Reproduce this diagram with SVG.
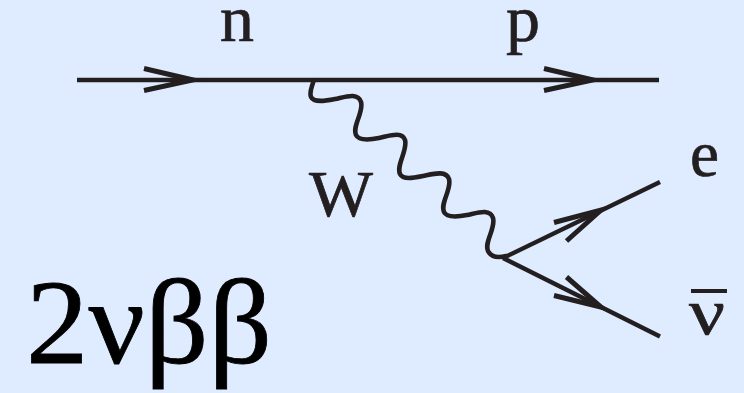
<svg xmlns="http://www.w3.org/2000/svg" width="744" height="393" viewBox="0 0 744 393">
<style>
.l{fill:none;stroke:#231f20;stroke-width:4.4;stroke-linecap:butt}
.a{fill:none;stroke:#231f20;stroke-width:5;stroke-miterlimit:10}
.h{fill:#231f20}
.w{fill:none;stroke:#231f20;stroke-width:4.6;stroke-linecap:round;stroke-linejoin:round}
.t{font-family:"Liberation Serif","Times New Roman",serif;font-size:65px;fill:#231f20;stroke:#231f20;stroke-width:.7}
.b{font-family:"Liberation Serif","Times New Roman",serif;font-size:120px;fill:#000;stroke:#000;stroke-width:.8}
</style>
<rect width="744" height="393" fill="#dfecff"/>
<g id="connectors">
<path class="l" d="M77,80H659"/>
<path class="a" d="M144,68.5L193,80L144,90.5"/>
<path class="a" d="M544,68.5L593,80L544,90.5"/>
<path class="w" d="M313.5,81C312,87 309,92 311,97C314,103 325,101 335,99C345,97 358,92 361,102C364,112 352,126 356,135C359,141 369,140 379,138C389,136 402,131 405,140C408,150 396,165 400,174C403,180 413,178 423,176C433,174 446,170 449,179C452,189 440,203 444,212C447,218 457,217 467,215C477,213 490,208 493,218C496,228 484,242 488,251C491,257 498,258 506,256"/>
<path class="l" d="M503,258L660,182"/>
<path class="l" d="M503,258L660,336.5"/>
<path class="a" d="M554,222.5L601,210L566.5,241"/>
<path class="a" d="M554,295.5L601,307L566.5,277"/>
</g>
<g id="n"><text class="t" x="220" y="41" textLength="34" lengthAdjust="spacingAndGlyphs">n</text></g>
<g id="p"><text class="t" x="506" y="41" textLength="34" lengthAdjust="spacingAndGlyphs">p</text></g>
<g id="w"><text class="t" x="309" y="216" textLength="64" lengthAdjust="spacingAndGlyphs">W</text></g>
<g id="e"><text class="t" x="690" y="176" textLength="29" lengthAdjust="spacingAndGlyphs">e</text></g>
<g id="nubar"><text class="t" x="689" y="334" textLength="36" lengthAdjust="spacingAndGlyphs">ν</text><path d="M691,291H727" stroke="#231f20" stroke-width="4"/></g>
<g id="title"><text class="b" x="26" y="363" textLength="246" lengthAdjust="spacingAndGlyphs">2νββ</text></g>
</svg>
